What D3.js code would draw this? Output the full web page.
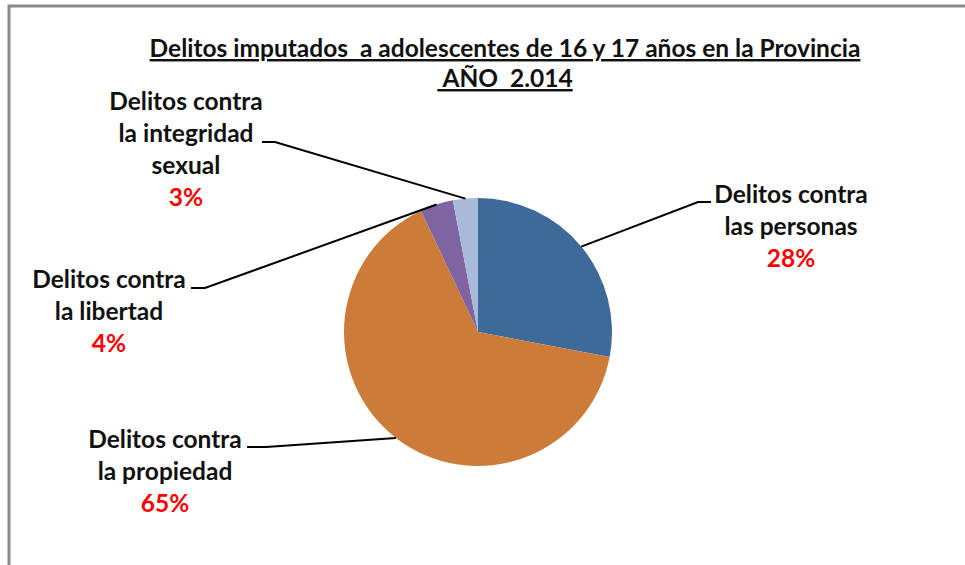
<!DOCTYPE html>
<html>
<head>
<meta charset="utf-8">
<script src="https://cdn.jsdelivr.net/npm/d3@7"></script>
<style>
  body { margin: 0; background: #fff; }
  text { font-family: Lato, "Open Sans", sans-serif; font-weight: bold; }
</style>
</head>
<body>
<div id="container"></div>
<script>
const categories = ["Delitos contra las personas", "Delitos contra la propiedad", "Delitos contra la libertad", "Delitos contra la integridad sexual"];
const labelLines = [
    ["Delitos contra", "las personas"],
    ["Delitos contra", "la propiedad"],
    ["Delitos contra", "la libertad"],
    ["Delitos contra", "la integridad", "sexual"]
];
const percents = [28, 65, 4, 3];
const titleLines = ["Delitos imputados  a adolescentes de 16 y 17 años en la Provincia", " AÑO  2.014"];

const colors = ["#3e6a9a", "#cc7b39", "#8064a1", "#a9b9d8"];
// where each label block sits (centre x, first baseline y) and where its leader line ends
const labelLayout = [
    { x: 791, y: 203, tail: [[711, 202], [698, 202]] },
    { x: 165, y: 448, tail: [[247, 447], [266, 447]] },
    { x: 109, y: 288, tail: [[191, 288], [205, 288]] },
    { x: 186, y: 110, tail: [[262, 142], [275, 142]] }
];

var width = 965;
var height = 565;
var cx = 478, cy = 332, radius = 134;
var lineGap = 32;

let svg = d3.select("#container").append("svg")
    .attr("width", width)
    .attr("height", height);

svg.append("rect")
    .attr("x", 9)
    .attr("y", 6)
    .attr("width", 1000)
    .attr("height", 600)
    .attr("fill", "#fff")
    .attr("stroke", "#898989")
    .attr("stroke-width", 3);

svg.selectAll(".title")
    .data(titleLines)
    .enter()
    .append("text")
    .attr("class", "title")
    .attr("x", 505)
    .attr("y", (d, i) => 57 + i * 30)
    .attr("text-anchor", "middle")
    .style("font-size", "24.5px")
    .style("white-space", "pre")
    .style("text-decoration", "underline")
    .attr("fill", "#111")
    .text(d => d);

let pie = d3.pie().sort(null).value(d => d);
let arcs = pie(percents);

let arc = d3.arc().innerRadius(0).outerRadius(radius);
let edge = d3.arc().innerRadius(radius).outerRadius(radius);

let g = svg.append("g").attr("transform", `translate(${cx},${cy})`);

g.selectAll(".slice")
    .data(arcs)
    .enter()
    .append("path")
    .attr("class", "slice")
    .attr("fill", (d, i) => colors[i])
    .attr("d", arc);

// leader lines from slice edge to label
let line = d3.line();
svg.selectAll(".leader")
    .data(arcs)
    .enter()
    .append("path")
    .attr("class", "leader")
    .attr("fill", "none")
    .attr("stroke", "#000")
    .attr("stroke-width", 2)
    .attr("d", (d, i) => {
        let c = edge.centroid(d);
        let pts = [[cx + c[0], cy + c[1]]].concat(labelLayout[i].tail.slice().reverse());
        return line(pts);
    });

let labels = svg.selectAll(".label")
    .data(arcs)
    .enter()
    .append("text")
    .attr("class", "label")
    .attr("text-anchor", "middle")
    .style("font-size", "24.5px");

labels.each(function (d, i) {
    let t = d3.select(this);
    let lay = labelLayout[i];
    labelLines[i].forEach((s, k) => {
        t.append("tspan")
            .attr("x", lay.x)
            .attr("y", lay.y + k * lineGap)
            .attr("fill", "#111")
            .text(s);
    });
    t.append("tspan")
        .attr("x", lay.x)
        .attr("y", lay.y + labelLines[i].length * lineGap)
        .attr("fill", "#ff0000")
        .text(percents[i] + "%");
});
</script>
</body>
</html>
